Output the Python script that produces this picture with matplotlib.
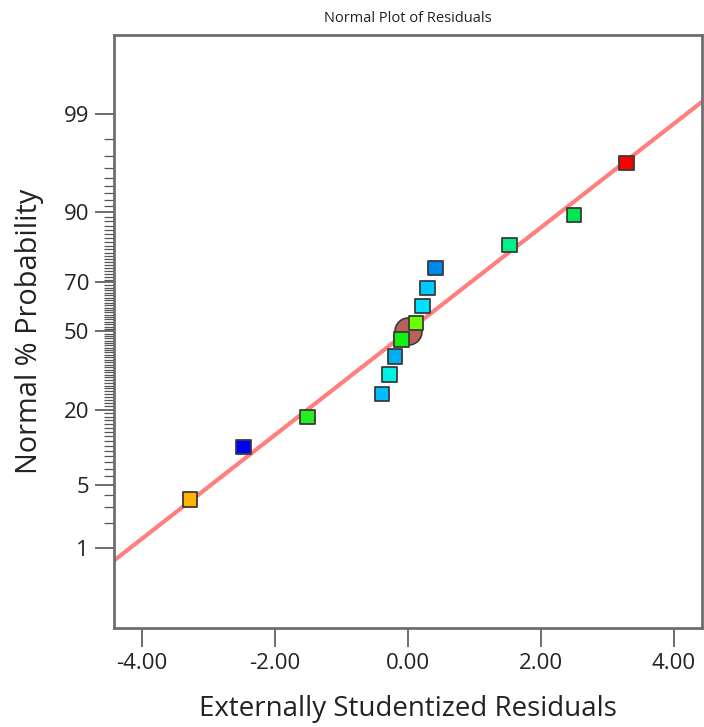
import numpy as np
import matplotlib
matplotlib.use("Agg")
import matplotlib.pyplot as plt
from statistics import NormalDist

plt.rcParams['font.family'] = ['Open Sans', 'DejaVu Sans']

# externally studentized residuals, sorted, with their normal % probability
residuals = [-3.28, -2.47, -1.51, -0.39, -0.275, -0.195, -0.10,
             0.12, 0.215, 0.29, 0.41, 1.53, 2.50, 3.29]
probability = [3.57, 10.71, 17.86, 25.0, 32.14, 39.29, 46.43,
               53.57, 60.71, 67.86, 75.0, 82.14, 89.29, 96.43]
point_colors = ['#FFB400', '#0000FF', '#22EE22', '#00BEFF', '#00F2E2',
                '#00AEF2', '#14F014', '#6CFF00', '#00E2FF', '#00CAFF',
                '#0088EE', '#00F08A', '#00E650', '#FF0000']

# reference line: residual = line_scale * z, through (0, 50 %)
line_scale = 1.80

y_ticks = [1, 5, 20, 50, 70, 90, 99]
x_ticks = [-4, -2, 0, 2, 4]

nd = NormalDist()
_ppf = np.vectorize(lambda p: nd.inv_cdf(min(max(p, 1e-9), 100 - 1e-9) / 100.0))
_cdf = np.vectorize(lambda z: nd.cdf(z) * 100.0)


def forward(p):
    return _ppf(np.asarray(p, dtype=float))


def inverse(z):
    return _cdf(np.asarray(z, dtype=float))


fig = plt.figure(figsize=(7.04, 7.27), dpi=100)
ax = fig.add_axes([0.162, 0.1366, 0.835, 0.8157])
ax.set_yscale('function', functions=(forward, inverse))

xs = np.linspace(-4.5, 4.5, 200)
ax.plot(xs, inverse(xs / line_scale), color='#FF7F7F', lw=3, zorder=2)

ax.scatter([0.0], [50.0], s=380, marker='o', color='#B8625A',
           edgecolor='#3A3A3A', linewidth=1.2, zorder=3)
ax.scatter(residuals, probability, s=110, marker='s', c=point_colors,
           edgecolor='#3A3A3A', linewidth=1.3, zorder=4)

z_lim = 3.175
ax.set_ylim(inverse(-z_lim), inverse(z_lim))
ax.set_xlim(-4.42, 4.42)

ax.set_yticks(y_ticks)
ax.set_yticklabels([str(t) for t in y_ticks])
ax.set_yticks([p for p in range(1, 100) if p not in y_ticks], minor=True)
ax.set_xticks(x_ticks)
ax.set_xticklabels([f'{t:.2f}' for t in x_ticks])
ax.xaxis.set_minor_locator(matplotlib.ticker.NullLocator())

ax.tick_params(axis='both', which='major', length=14, width=1.2,
               color='#555555', labelsize=16, labelcolor='#222222', pad=4)
ax.tick_params(axis='y', which='minor', length=7, width=0.9, color='#555555')

for sp in ax.spines.values():
    sp.set_color('#6E6E6E')
    sp.set_linewidth(2)

ax.set_xlabel('Externally Studentized Residuals', fontsize=20, color='#222222', labelpad=15)
ax.set_ylabel('Normal % Probability', fontsize=20.8, color='#222222', labelpad=14)
ax.set_title('Normal Plot of Residuals', fontsize=10.5, color='#222222', pad=9)

fig.savefig('out.png', dpi=100)
